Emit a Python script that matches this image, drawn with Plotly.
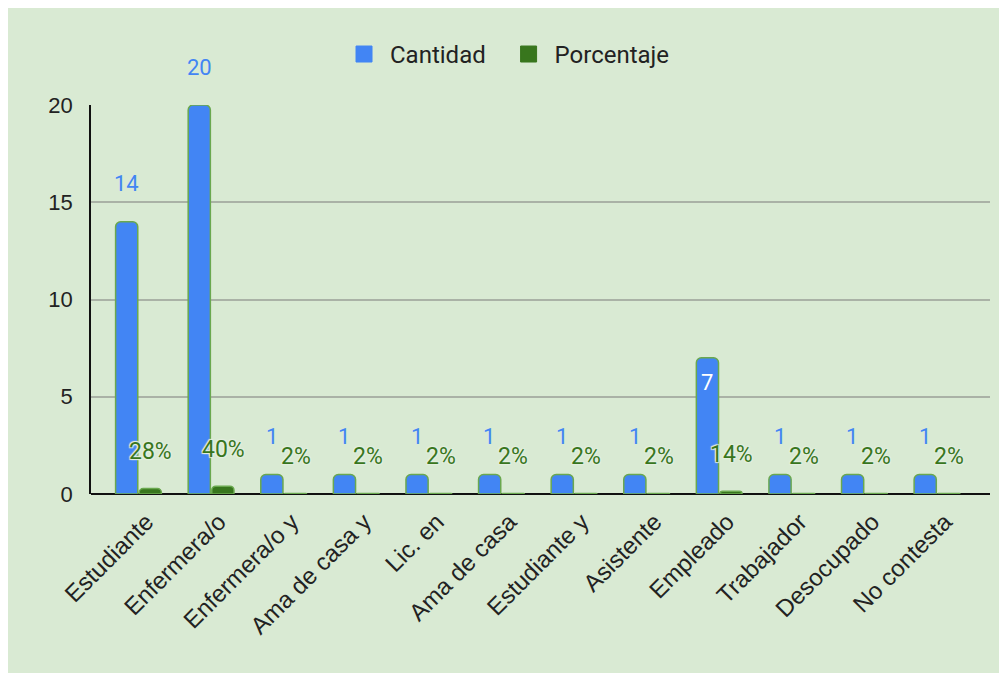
import plotly.graph_objects as go

# Datos
ocupaciones = ["Estudiante", "Enfermera/o", "Enfermera/o y", "Ama de casa y", "Lic. en",
               "Ama de casa", "Estudiante y", "Asistente", "Empleado", "Trabajador",
               "Desocupado", "No contesta"]
cantidad = [14, 20, 1, 1, 1, 1, 1, 1, 7, 1, 1, 1]
porcentaje = [0.28, 0.40, 0.02, 0.02, 0.02, 0.02, 0.02, 0.02, 0.14, 0.02, 0.02, 0.02]
y_ticks = [0, 5, 10, 15, 20]

# Estilo
FONDO = "#d9ead3"
AZUL = "#4285f4"
VERDE = "#38761d"
BORDE = "#6aa84f"
GRILLA = "#aab2a6"
TEXTO = "#222222"
HALO = ("-1px -1px 1px #e4efdf, 1px -1px 1px #e4efdf, "
        "-1px 1px 1px #e4efdf, 1px 1px 1px #e4efdf")
DENTRO = {"Empleado"}   # etiquetas que van dentro de la barra

fig = go.Figure()
fig.add_trace(go.Bar(
    x=ocupaciones, y=cantidad, name="Cantidad",
    marker=dict(color=AZUL, line=dict(color=BORDE, width=1.5), cornerradius=5),
    showlegend=False,
))
fig.add_trace(go.Bar(
    x=ocupaciones, y=porcentaje, name="Porcentaje",
    marker=dict(color=VERDE, line=dict(color=BORDE, width=1.5), cornerradius=4),
    showlegend=False,
))

# Leyenda con cuadrados más grandes
for nombre, color in [("Cantidad", AZUL), ("Porcentaje", VERDE)]:
    fig.add_trace(go.Scatter(
        x=[None], y=[None], mode="markers", name=" " + nombre + "   ",
        marker=dict(symbol="square", size=16, color=color, line=dict(color=color, width=1)),
    ))

# Etiquetas de datos
for cat, v, p in zip(ocupaciones, cantidad, porcentaje):
    dentro = cat in DENTRO
    fig.add_annotation(
        x=cat, y=v, xshift=-12, yshift=-25 if dentro else 38,
        text=str(v), showarrow=False, yanchor="middle",
        font=dict(family="Roboto", size=22, color="white" if dentro else AZUL),
    )
    fig.add_annotation(
        x=cat, y=p, xshift=12, yshift=37,
        text=f"{round(p * 100)}%", showarrow=False, yanchor="middle",
        font=dict(family="Roboto", size=23, color=VERDE, shadow=HALO),
    )

fig.update_layout(
    width=995, height=665,
    paper_bgcolor=FONDO, plot_bgcolor=FONDO,
    margin=dict(l=83, r=13, t=97, b=179),
    barmode="group", bargap=0.35, bargroupgap=0.06,
    font=dict(family="Arial, Liberation Sans", color=TEXTO),
    legend=dict(orientation="h", x=0.475, xanchor="center", y=1.13, yanchor="middle",
                font=dict(family="Roboto", size=24, color=TEXTO),
                itemwidth=30, bgcolor="rgba(0,0,0,0)"),
    xaxis=dict(
        range=[-0.654, 11.73], tickangle=-45, showgrid=False,
        tickfont=dict(size=24, color=TEXTO), ticklabelstandoff=8, ticklabelshift=8,
        showline=False, zeroline=False,
    ),
    yaxis=dict(
        range=[0, 20], tickvals=y_ticks, gridcolor=GRILLA, gridwidth=1.5,
        tickfont=dict(size=22, color=TEXTO), ticklabelstandoff=12,
        showline=True, linecolor="#111111", linewidth=1.5,
        zeroline=True, zerolinecolor="#111111", zerolinewidth=2,
    ),
)

fig.write_html("out.html")
